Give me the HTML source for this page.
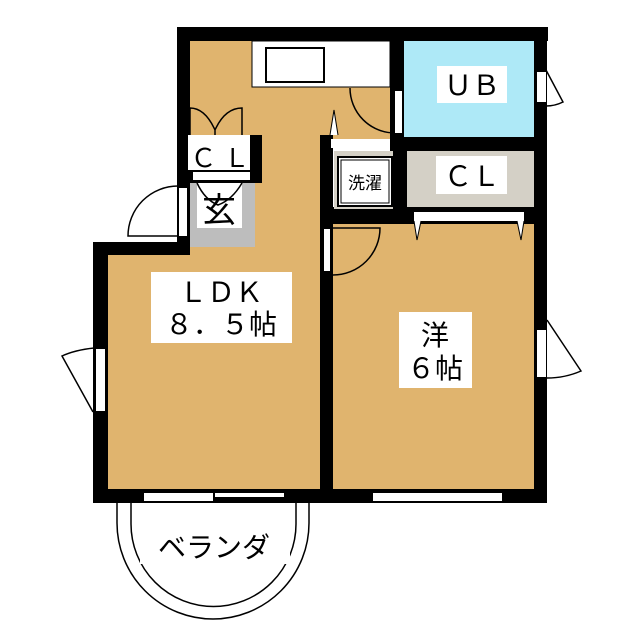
<!DOCTYPE html>
<html><head><meta charset="utf-8"><style>
html,body{margin:0;padding:0;background:#fff;width:640px;height:640px;overflow:hidden}
svg{display:block}
text{font-family:"Liberation Sans","Noto Sans CJK JP",sans-serif;fill:#000}
</style></head><body>
<svg width="640" height="640" viewBox="0 0 640 640" xmlns="http://www.w3.org/2000/svg">
<rect x="190" y="41" width="200" height="100" fill="#E0B46E"/>
<rect x="190" y="41" width="135" height="455" fill="#E0B46E"/>
<rect x="108" y="255" width="215" height="234" fill="#E0B46E"/>
<rect x="333" y="224" width="201" height="265" fill="#E0B46E"/>
<rect x="404" y="41" width="130" height="96" fill="#AEE9F7"/>
<rect x="407" y="151" width="127" height="56" fill="#D4D0C6"/>
<rect x="190" y="183" width="65" height="64" fill="#BDBDBD"/>
<rect x="197" y="183" width="45" height="45" fill="#fff"/>
<text x="219" y="222" font-size="34" text-anchor="middle">玄</text>
<path d="M197 183 Q 205 200 218 205 Q 232 200 242 183" fill="none" stroke="#000" stroke-width="1.5"/>
<g fill="#000">
<rect x="177" y="27" width="371" height="14"/>
<rect x="177" y="27" width="13" height="228"/>
<rect x="93" y="242" width="97" height="13"/>
<rect x="93" y="242" width="15" height="261"/>
<rect x="93" y="489" width="454" height="14"/>
<rect x="534" y="27" width="13" height="476"/>
<rect x="320" y="135" width="13" height="368"/>
<rect x="390" y="27" width="14" height="124"/>
<rect x="390" y="137" width="157" height="14"/>
<rect x="393" y="137" width="14" height="87"/>
<rect x="320" y="207" width="227" height="17"/>
<rect x="185" y="135" width="77" height="48"/>
</g>
<rect x="252" y="41" width="138" height="46" fill="#fff" stroke="#000" stroke-width="1"/>
<rect x="266" y="48" width="58" height="34" fill="#fff" stroke="#000" stroke-width="2"/>
<rect x="395" y="91" width="7" height="42" fill="#fff"/>
<path d="M350 88 A45 45 0 0 0 395 133" fill="none" stroke="#000" stroke-width="1.5"/>
<path d="M330 135 L334 110 L338 135" fill="#fff" stroke="#000" stroke-width="1"/>
<rect x="331" y="139" width="59" height="9" fill="#fff"/>
<rect x="334" y="151" width="59" height="58" fill="#D4D0C6"/>
<rect x="338" y="157" width="54" height="49" fill="#fff" stroke="#000" stroke-width="2"/>
<rect x="341" y="160" width="48" height="43" fill="#fff" stroke="#000" stroke-width="1"/>
<text x="365" y="189" font-size="17" text-anchor="middle">洗濯</text>
<rect x="188" y="135" width="62" height="35" fill="#fff"/>
<rect x="193" y="172" width="57" height="8" fill="#fff"/>
<text x="220" y="167" font-size="26" text-anchor="middle">Ｃ Ｌ</text>
<path d="M190 108 Q205 108 215 130 Q225 108 242 108 L242 135 M190 108 L190 135 M215 130 L215 135" fill="none" stroke="#000" stroke-width="1.5"/>
<rect x="179" y="188" width="8" height="48" fill="#fff"/>
<path d="M178 186 A50 50 0 0 0 128 236 L178 236" fill="none" stroke="#000" stroke-width="1.5"/>
<rect x="437" y="66" width="70" height="37" fill="#fff"/>
<text x="472" y="95" font-size="28" text-anchor="middle">ＵＢ</text>
<rect x="537" y="72" width="9" height="30" fill="#fff"/>
<path d="M546 70 L563 102 Q555 106 546 106" fill="none" stroke="#000" stroke-width="1.5"/>
<rect x="436" y="156" width="71" height="38" fill="#fff"/>
<text x="472" y="186" font-size="28" text-anchor="middle">ＣＬ</text>
<rect x="414" y="212" width="110" height="9" fill="#fff"/>
<path d="M414 221 L417 240 L421 221 M517 221 L521 240 L524 221" fill="#fff" stroke="#000" stroke-width="1"/>
<rect x="324" y="229" width="6" height="42" fill="#fff"/>
<path d="M333 228 L380 228 A47 47 0 0 1 333 275" fill="none" stroke="#000" stroke-width="1.5"/>
<rect x="151" y="272" width="141" height="71" fill="#fff"/>
<text x="221" y="302" font-size="28" text-anchor="middle">ＬＤＫ</text>
<text x="221" y="334" font-size="28" text-anchor="middle">８．５帖</text>
<rect x="399" y="312" width="73" height="76" fill="#fff"/>
<text x="435" y="345" font-size="28" text-anchor="middle">洋</text>
<text x="435" y="378" font-size="28" text-anchor="middle">６帖</text>
<rect x="96" y="349" width="9" height="62" fill="#fff"/>
<path d="M94 348 Q75 350 62 356 L93 412" fill="none" stroke="#000" stroke-width="1.5"/>
<rect x="537" y="330" width="9" height="47" fill="#fff"/>
<path d="M547 320 L581 371 Q565 378 547 378" fill="none" stroke="#000" stroke-width="1.5"/>
<rect x="144" y="493" width="69" height="8" fill="#fff"/>
<rect x="215" y="493" width="69" height="4" fill="#fff"/>
<rect x="373" y="493" width="129" height="8" fill="#fff"/>
<path d="M117 503 L117 523 A96 96 0 0 0 309 523 L309 503" fill="none" stroke="#000" stroke-width="1.5"/>
<path d="M131 503 L131 524 A82 82 0 0 0 296 524 L296 503" fill="none" stroke="#000" stroke-width="1.5"/>
<rect x="140" y="528" width="150" height="36" fill="#fff"/>
<text x="214" y="557" font-size="28" text-anchor="middle">ベランダ</text>
</svg>
</body></html>
